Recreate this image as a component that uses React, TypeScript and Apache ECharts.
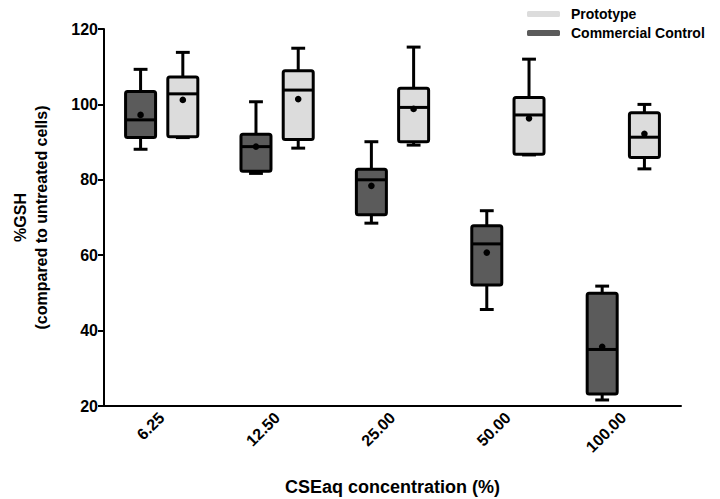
import React, { useEffect, useRef } from "react";
import * as echarts from "echarts";

const categories = ["6.25", "12.50", "25.00", "50.00", "100.00"];
// [min, Q1, median, Q3, max]
const commercialBoxes = [
  [88.1, 91.2, 95.9, 103.4, 109.3],
  [81.7, 82.3, 88.8, 92.1, 100.7],
  [68.5, 70.7, 80.0, 82.8, 90.1],
  [45.6, 52.1, 63.0, 67.8, 71.8],
  [21.6, 23.2, 35.0, 49.9, 51.8],
];
const commercialMeans = [97.2, 88.8, 78.4, 60.7, 35.7];
const prototypeBoxes = [
  [91.2, 91.4, 102.8, 107.3, 113.8],
  [88.4, 90.7, 103.8, 108.9, 114.9],
  [89.2, 90.1, 99.2, 104.3, 115.2],
  [86.6, 86.8, 97.2, 101.8, 112.0],
  [82.9, 85.9, 91.3, 97.8, 100.0],
];
const prototypeMeans = [101.2, 101.4, 98.8, 96.3, 92.2];
const yTicks = [20, 40, 60, 80, 100, 120];

const FONT = "Arial, 'Liberation Sans', sans-serif";

function makeRender(offsetFrac: number, fill: string) {
  return (params: any, api: any) => {
    const cat = api.value(0);
    const band = api.size([1, 0])[0];
    const cx = api.coord([cat, 0])[0] + band * offsetFrac;
    const w = band * 0.26;
    const cap = band * 0.12;
    const yMin = api.coord([cat, api.value(1)])[1];
    const yQ1 = api.coord([cat, api.value(2)])[1];
    const yMed = api.coord([cat, api.value(3)])[1];
    const yQ3 = api.coord([cat, api.value(4)])[1];
    const yMax = api.coord([cat, api.value(5)])[1];
    const yMean = api.coord([cat, api.value(6)])[1];
    const ls = { stroke: "#000", lineWidth: 3 };
    return {
      type: "group",
      children: [
        { type: "line", shape: { x1: cx, y1: yMax, x2: cx, y2: yQ3 }, style: ls },
        { type: "line", shape: { x1: cx, y1: yQ1, x2: cx, y2: yMin }, style: ls },
        { type: "line", shape: { x1: cx - cap / 2, y1: yMax, x2: cx + cap / 2, y2: yMax }, style: ls },
        { type: "line", shape: { x1: cx - cap / 2, y1: yMin, x2: cx + cap / 2, y2: yMin }, style: ls },
        {
          type: "rect",
          shape: { x: cx - w / 2, y: yQ3, width: w, height: yQ1 - yQ3, r: 2 },
          style: { fill, stroke: "#000", lineWidth: 3 },
        },
        { type: "line", shape: { x1: cx - w / 2, y1: yMed, x2: cx + w / 2, y2: yMed }, style: ls },
        { type: "circle", shape: { cx, cy: yMean, r: 3.3 }, style: { fill: "#000" } },
      ],
    };
  };
}

export default function App() {
  const ref = useRef<HTMLDivElement>(null);
  useEffect(() => {
    if (!ref.current) return;
    const chart = echarts.init(ref.current, null, { renderer: "svg" });
    const dark = "#5b5b5b";
    const light = "#dcdcdc";
    const commercialData = categories.map((_, i) => [i, ...commercialBoxes[i], commercialMeans[i]]);
    const prototypeData = categories.map((_, i) => [i, ...prototypeBoxes[i], prototypeMeans[i]]);
    chart.setOption({
      animation: false,
      backgroundColor: "#fff",
      textStyle: { fontFamily: FONT },
      grid: { left: 104, right: 39, top: 29, bottom: 93, outerBoundsMode: "none", containLabel: false },
      legend: {
        orient: "vertical",
        left: 522,
        top: 2,
        itemWidth: 33,
        itemHeight: 6,
        itemGap: 5,
        icon: "roundRect",
        data: ["Prototype", "Commercial Control"],
        textStyle: { fontFamily: FONT, fontWeight: "bold", fontSize: 14, color: "#000", padding: [0, 0, 0, 6] },
      },
      xAxis: {
        type: "category",
        data: categories,
        boundaryGap: true,
        axisLine: { lineStyle: { color: "#000", width: 2 } },
        axisTick: { alignWithLabel: true, length: 6, lineStyle: { color: "#000", width: 2 } },
        axisLabel: { rotate: 45, margin: 9, fontFamily: FONT, fontWeight: "bold", fontSize: 16, color: "#000" },
        name: "CSEaq concentration (%)",
        nameLocation: "middle",
        nameGap: 72,
        nameTextStyle: { fontFamily: FONT, fontWeight: "bold", fontSize: 18, color: "#000" },
      },
      yAxis: {
        type: "value",
        min: yTicks[0],
        max: yTicks[yTicks.length - 1],
        interval: 20,
        splitLine: { show: false },
        axisLine: { show: true, lineStyle: { color: "#000", width: 2 } },
        axisTick: { show: true, length: 6, lineStyle: { color: "#000", width: 2 } },
        axisLabel: { margin: 6, fontFamily: FONT, fontWeight: "bold", fontSize: 16, color: "#000" },
        name: "%GSH\n(compared to untreated cells)",
        nameLocation: "middle",
        nameGap: 52,
        nameRotate: 90,
        nameTextStyle: { fontFamily: FONT, fontWeight: "bold", fontSize: 16, color: "#000", lineHeight: 21 },
      },
      series: [
        {
          name: "Commercial Control",
          type: "custom",
          itemStyle: { color: dark },
          renderItem: makeRender(-0.183, dark),
          encode: { x: 0, y: [1, 2, 3, 4, 5] },
          data: commercialData,
        },
        {
          name: "Prototype",
          type: "custom",
          itemStyle: { color: light },
          renderItem: makeRender(0.183, light),
          encode: { x: 0, y: [1, 2, 3, 4, 5] },
          data: prototypeData,
        },
      ],
    });
    return () => chart.dispose();
  }, []);
  return <div ref={ref} style={{ width: 720, height: 499, position: "absolute", left: 0, top: 0 }} />;
}
